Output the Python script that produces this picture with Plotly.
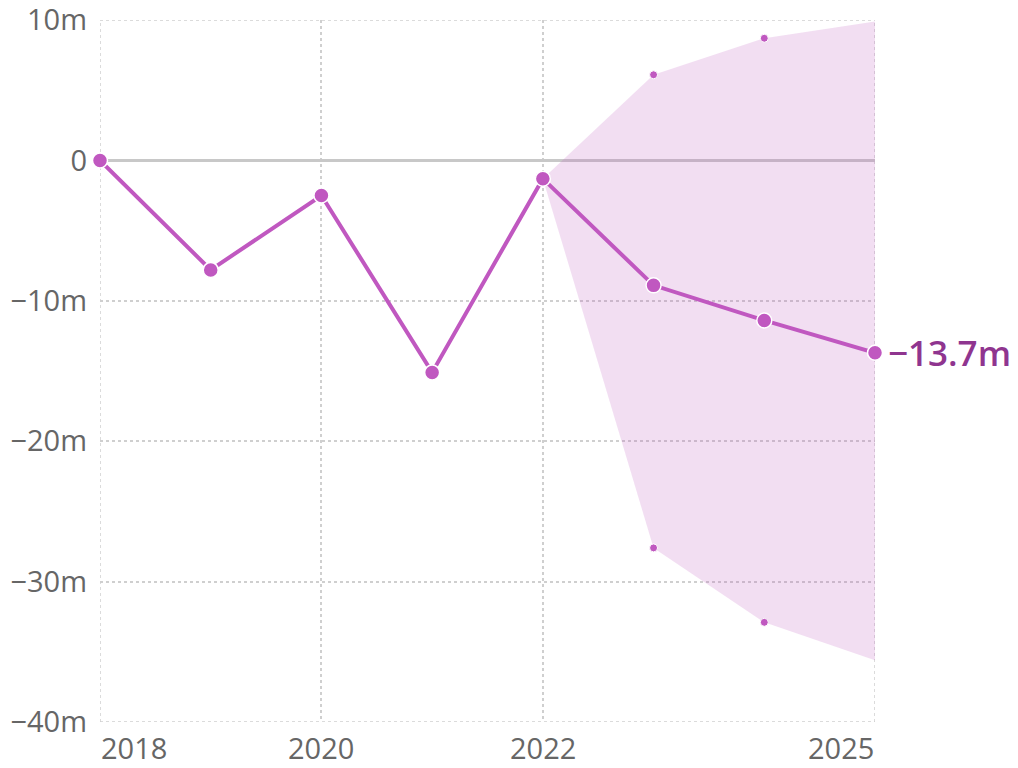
import plotly.graph_objects as go

years = [2018, 2019, 2020, 2021, 2022, 2023, 2024, 2025]
values = [0.0, -7.8, -2.5, -15.1, -1.3, -8.9, -11.4, -13.7]

band_years = [2022, 2023, 2024, 2025]
band_upper = [-1.3, 6.1, 8.7, 9.9]
band_lower = [-1.3, -27.6, -32.9, -35.6]

dot_years = [2023, 2024]
dot_upper = [6.1, 8.7]
dot_lower = [-27.6, -32.9]

y_ticks = [10, 0, -10, -20, -30, -40]
y_labels = ["10m", "0", "\u221210m", "\u221220m", "\u221230m", "\u221240m"]
x_ticks = [2018, 2020, 2022, 2025]
x_labels = ["2018", "2020", "2022", "2025"]
end_label = "\u221213.7m"

PURPLE = "#c058c0"
FONT = "Open Sans"
GRID = "#cfcfcf"

fig = go.Figure()

fig.add_trace(go.Scatter(x=band_years, y=band_upper, mode="lines",
                         line=dict(width=0), hoverinfo="skip", showlegend=False))
fig.add_trace(go.Scatter(x=band_years, y=band_lower, mode="lines",
                         line=dict(width=0), fill="tonexty",
                         fillcolor="rgba(192,88,192,0.2)", hoverinfo="skip",
                         showlegend=False))
fig.add_trace(go.Scatter(x=dot_years + dot_years, y=dot_upper + dot_lower,
                         mode="markers",
                         marker=dict(size=8, color=PURPLE,
                                     line=dict(color="white", width=1)),
                         showlegend=False, cliponaxis=False))
fig.add_trace(go.Scatter(x=years, y=values, mode="lines+markers",
                         line=dict(color=PURPLE, width=4),
                         marker=dict(size=15, color=PURPLE,
                                     line=dict(color="white", width=1.5)),
                         showlegend=False, cliponaxis=False))

shapes = []
# edge grid lines that plotly omits at the range ends
for xv in [x_ticks[0], x_ticks[-1]]:
    shapes.append(dict(type="line", xref="x", yref="paper", x0=xv, x1=xv,
                       y0=0, y1=1, layer="below",
                       line=dict(color=GRID, width=1.5, dash="dot")))
for yv in [y_ticks[0], y_ticks[-1]]:
    shapes.append(dict(type="line", xref="paper", yref="y", x0=0, x1=1,
                       y0=yv, y1=yv, layer="below",
                       line=dict(color=GRID, width=1.5, dash="dot")))

anns = []
aligns = ["left", "center", "center", "right"]
for xv, lab, al in zip(x_ticks, x_labels, aligns):
    anns.append(dict(x=xv, y=0, xref="x", yref="paper", text=lab,
                     showarrow=False, xanchor=al, yanchor="top", yshift=-5,
                     borderpad=0,
                     font=dict(family=FONT, size=29, color="#666666")))
anns.append(dict(x=years[-1], y=values[-1], xref="x", yref="y", text=end_label,
                 showarrow=False, xanchor="left", yanchor="middle", xshift=11,
                 font=dict(family=FONT, size=35, color="#8f358f", weight=600)))

# page body has an 8px margin, so the figure is 8px smaller on each axis
fig.update_layout(
    width=1010, height=760,
    margin=dict(l=92, r=143, t=12, b=46, autoexpand=False),
    paper_bgcolor="white", plot_bgcolor="white",
    font=dict(family=FONT, color="#666666"),
    annotations=anns, shapes=shapes,
    xaxis=dict(range=[2018, 2025], tickvals=x_ticks, showticklabels=False,
               showgrid=True, gridcolor=GRID, griddash="dot", gridwidth=1.5,
               zeroline=False, showline=False, automargin=False),
    yaxis=dict(range=[-40, 10], tickvals=y_ticks, ticktext=y_labels,
               showgrid=True, gridcolor=GRID, griddash="dot", gridwidth=1.5,
               zeroline=True, zerolinecolor="#c8c8c8", zerolinewidth=3,
               showline=False, ticks="", ticklabelstandoff=12, automargin=False,
               ticklabeloverflow="allow",
               tickfont=dict(family=FONT, size=29, color="#666666")),
)

fig.write_html("out.html")
